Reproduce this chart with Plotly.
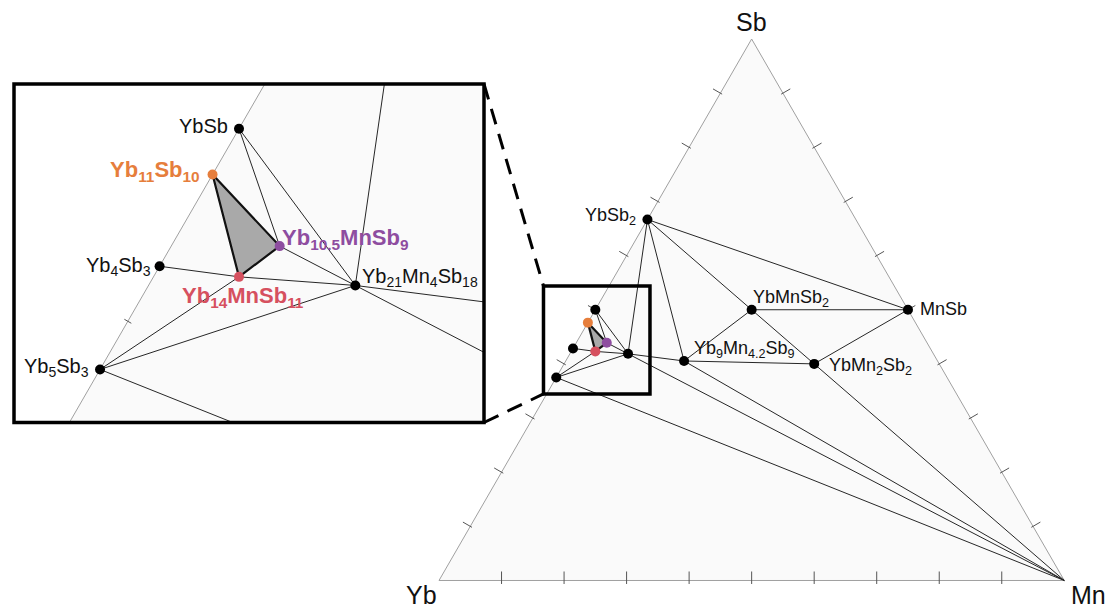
import math
import plotly.graph_objects as go

# ---- phase compositions (atoms of Yb, Mn, Sb) ----
PHASES = ["YbSb2", "YbSb", "Yb11Sb10", "Yb4Sb3", "Yb5Sb3", "Yb14MnSb11",
          "Yb10.5MnSb9", "Yb21Mn4Sb18", "Yb9Mn4.2Sb9", "YbMnSb2", "YbMn2Sb2",
          "MnSb", "Yb", "Mn", "Sb"]
YB_ATOMS = [1, 1, 11, 4, 5, 14, 10.5, 21, 9, 1, 1, 0, 1, 0, 0]
MN_ATOMS = [0, 0, 0, 0, 0, 1, 1, 4, 4.2, 1, 2, 1, 0, 1, 0]
SB_ATOMS = [2, 1, 10, 3, 3, 11, 9, 18, 9, 2, 2, 1, 0, 0, 1]

# tie lines between coexisting phases
TIE_LINES = [
    ("YbSb2", "MnSb"), ("YbSb2", "YbMnSb2"), ("YbSb2", "Yb9Mn4.2Sb9"),
    ("YbSb2", "Yb21Mn4Sb18"), ("YbMnSb2", "MnSb"), ("YbMnSb2", "Yb9Mn4.2Sb9"),
    ("YbMnSb2", "YbMn2Sb2"), ("YbMn2Sb2", "MnSb"), ("Yb9Mn4.2Sb9", "YbMn2Sb2"),
    ("Yb21Mn4Sb18", "Yb9Mn4.2Sb9"), ("YbMn2Sb2", "Mn"), ("Yb9Mn4.2Sb9", "Mn"),
    ("Yb21Mn4Sb18", "Mn"), ("Yb5Sb3", "Mn"), ("YbSb", "Yb10.5MnSb9"),
    ("YbSb", "Yb21Mn4Sb18"), ("Yb10.5MnSb9", "Yb21Mn4Sb18"),
    ("Yb4Sb3", "Yb14MnSb11"), ("Yb14MnSb11", "Yb21Mn4Sb18"),
    ("Yb5Sb3", "Yb14MnSb11"), ("Yb5Sb3", "Yb21Mn4Sb18"),
]

# three-phase field of interest
HIGHLIGHT = ["Yb11Sb10", "Yb10.5MnSb9", "Yb14MnSb11"]
HIGHLIGHT_COLORS = ["#e67e3c", "#8e4da0", "#d6505f"]

BLACK_POINTS = ["YbSb2", "YbSb", "Yb4Sb3", "Yb5Sb3", "Yb21Mn4Sb18",
                "Yb9Mn4.2Sb9", "YbMnSb2", "YbMn2Sb2", "MnSb"]

TICK_FRACTIONS = [0.1, 0.2, 0.3, 0.4, 0.5, 0.6, 0.7, 0.8, 0.9]

LABEL_TEXT = {
    "YbSb2": "YbSb<sub>2</sub>", "YbSb": "YbSb",
    "Yb11Sb10": "Yb<sub>11</sub>Sb<sub>10</sub>",
    "Yb4Sb3": "Yb<sub>4</sub>Sb<sub>3</sub>",
    "Yb5Sb3": "Yb<sub>5</sub>Sb<sub>3</sub>",
    "Yb14MnSb11": "Yb<sub>14</sub>MnSb<sub>11</sub>",
    "Yb10.5MnSb9": "Yb<sub>10.5</sub>MnSb<sub>9</sub>",
    "Yb21Mn4Sb18": "Yb<sub>21</sub>Mn<sub>4</sub>Sb<sub>18</sub>",
    "Yb9Mn4.2Sb9": "Yb<sub>9</sub>Mn<sub>4.2</sub>Sb<sub>9</sub>",
    "YbMnSb2": "YbMnSb<sub>2</sub>", "YbMn2Sb2": "YbMn<sub>2</sub>Sb<sub>2</sub>",
    "MnSb": "MnSb",
}

# ---- view windows ----
W, H = 1110, 610
X_MAIN = [-0.7021, 1.0731]
Y_MAIN = [-0.0472, 0.9284]
X_INSET = [0.1488, 0.3602]
Y_INSET = [0.3009, 0.4531]
INSET_DOMAIN_X = [14 / W, 484 / W]
INSET_DOMAIN_Y = [1 - 422.5 / H, 1 - 84 / H]
ZOOM_X = [0.1671, 0.3374]
ZOOM_Y = [0.2983, 0.4710]

FONT = "Liberation Sans, Arial, Helvetica, sans-serif"
SQ3 = math.sqrt(3) / 2


def to_xy(yb, mn, sb):
    tot = yb + mn + sb
    m, s = mn / tot, sb / tot
    return m + s / 2, s * SQ3


POS = {n: to_xy(a, b, c) for n, a, b, c in zip(PHASES, YB_ATOMS, MN_ATOMS, SB_ATOMS)}

fig = go.Figure()


def add_diagram(xa, ya, px_per_unit, tick_in_base, tick_out_base, tick_in_side, tick_out_side):
    cyb, cmn, csb = POS["Yb"], POS["Mn"], POS["Sb"]
    # triangle body and edges
    fig.add_trace(go.Scatter(
        x=[cyb[0], cmn[0], csb[0], cyb[0]], y=[cyb[1], cmn[1], csb[1], cyb[1]],
        mode="lines", fill="toself", fillcolor="#fafafa",
        line=dict(color="#a0a0a0", width=1), xaxis=xa, yaxis=ya, hoverinfo="skip"))
    # ticks on the three edges
    edges = [(cyb, cmn, (0.0, 1.0), tick_in_base, tick_out_base),
             (cyb, csb, (SQ3, -0.5), tick_in_side, tick_out_side),
             (cmn, csb, (-SQ3, -0.5), tick_in_side, tick_out_side)]
    tx, ty = [], []
    for p, q, nrm, tin, tout in edges:
        for t in TICK_FRACTIONS:
            bx = p[0] + t * (q[0] - p[0])
            by = p[1] + t * (q[1] - p[1])
            a_in, a_out = tin / px_per_unit, tout / px_per_unit
            tx += [bx - a_out * nrm[0], bx + a_in * nrm[0], None]
            ty += [by - a_out * nrm[1], by + a_in * nrm[1], None]
    fig.add_trace(go.Scatter(x=tx, y=ty, mode="lines", line=dict(color="#555555", width=1),
                             xaxis=xa, yaxis=ya, hoverinfo="skip"))
    # tie lines
    lx, ly = [], []
    for a, b in TIE_LINES:
        lx += [POS[a][0], POS[b][0], None]
        ly += [POS[a][1], POS[b][1], None]
    fig.add_trace(go.Scatter(x=lx, y=ly, mode="lines", line=dict(color="#262626", width=1),
                             xaxis=xa, yaxis=ya, hoverinfo="skip"))
    # highlighted three-phase triangle
    hx = [POS[n][0] for n in HIGHLIGHT] + [POS[HIGHLIGHT[0]][0]]
    hy = [POS[n][1] for n in HIGHLIGHT] + [POS[HIGHLIGHT[0]][1]]
    fig.add_trace(go.Scatter(x=hx, y=hy, mode="lines", fill="toself", fillcolor="#a9a9a9",
                             line=dict(color="#111111", width=2.2),
                             xaxis=xa, yaxis=ya, hoverinfo="skip"))
    # phases
    fig.add_trace(go.Scatter(
        x=[POS[n][0] for n in BLACK_POINTS], y=[POS[n][1] for n in BLACK_POINTS],
        mode="markers", marker=dict(color="black", size=10),
        xaxis=xa, yaxis=ya, hoverinfo="skip"))
    fig.add_trace(go.Scatter(
        x=[POS[n][0] for n in HIGHLIGHT], y=[POS[n][1] for n in HIGHLIGHT],
        mode="markers", marker=dict(color=HIGHLIGHT_COLORS, size=10),
        xaxis=xa, yaxis=ya, hoverinfo="skip"))


main_scale = W / (X_MAIN[1] - X_MAIN[0])
inset_scale = (INSET_DOMAIN_X[1] - INSET_DOMAIN_X[0]) * W / (X_INSET[1] - X_INSET[0])
add_diagram("x", "y", main_scale, 9, 3.5, 2, 8.5)
add_diagram("x2", "y2", inset_scale, 4, 4, 4, 4)

annotations = []


def label(name, xref, yref, xanchor, yanchor, dx, dy, size, color="#111111", bold=False):
    txt = LABEL_TEXT[name]
    if bold:
        txt = "<b>" + txt + "</b>"
    annotations.append(dict(
        x=POS[name][0], y=POS[name][1], xref=xref, yref=yref, text=txt,
        showarrow=False, xanchor=xanchor, yanchor=yanchor, xshift=dx, yshift=dy,
        font=dict(family=FONT, size=size, color=color)))


# labels on the full diagram
label("YbSb2", "x", "y", "right", "middle", -9, 3, 18)
label("YbMnSb2", "x", "y", "left", "bottom", -1, -2, 18)
label("Yb9Mn4.2Sb9", "x", "y", "left", "bottom", 8, -2, 18)
label("YbMn2Sb2", "x", "y", "left", "middle", 13, -3, 18)
label("MnSb", "x", "y", "left", "middle", 10, 1, 18)

# labels in the enlarged view
label("YbSb", "x2", "y2", "right", "middle", -9, 3, 20)
label("Yb4Sb3", "x2", "y2", "right", "middle", -7, 0, 20)
label("Yb5Sb3", "x2", "y2", "right", "middle", -9, 2, 20)
label("Yb21Mn4Sb18", "x2", "y2", "left", "middle", 5, 8, 20)
label("Yb11Sb10", "x2", "y2", "right", "middle", -11, 4, 22, HIGHLIGHT_COLORS[0], True)
label("Yb10.5MnSb9", "x2", "y2", "left", "middle", 0, 7, 22, HIGHLIGHT_COLORS[1], True)
label("Yb14MnSb11", "x2", "y2", "center", "top", 4, -4, 22, HIGHLIGHT_COLORS[2], True)

# corner element labels
for name, dx, dy in [("Sb", 0, 17), ("Yb", -18, -15), ("Mn", 24, -15)]:
    annotations.append(dict(
        x=POS[name][0], y=POS[name][1], xref="x", yref="y", text=name, showarrow=False,
        xanchor="center", yanchor="middle", xshift=dx, yshift=dy,
        font=dict(family=FONT, size=25, color="#111111")))


def paper_x(v):
    return (v - X_MAIN[0]) / (X_MAIN[1] - X_MAIN[0])


def paper_y(v):
    return (v - Y_MAIN[0]) / (Y_MAIN[1] - Y_MAIN[0])


shapes = [
    # zoom window on the full diagram
    dict(type="rect", xref="x", yref="y", x0=ZOOM_X[0], x1=ZOOM_X[1], y0=ZOOM_Y[0], y1=ZOOM_Y[1],
         line=dict(color="black", width=3.5)),
    # frame of the enlarged view
    dict(type="rect", xref="paper", yref="paper",
         x0=INSET_DOMAIN_X[0], x1=INSET_DOMAIN_X[1], y0=INSET_DOMAIN_Y[0], y1=INSET_DOMAIN_Y[1],
         line=dict(color="black", width=3.5)),
    # connectors
    dict(type="line", xref="paper", yref="paper",
         x0=INSET_DOMAIN_X[1], y0=INSET_DOMAIN_Y[1], x1=paper_x(ZOOM_X[0]), y1=paper_y(ZOOM_Y[1]),
         line=dict(color="black", width=3, dash="16px,10px")),
    dict(type="line", xref="paper", yref="paper",
         x0=INSET_DOMAIN_X[1], y0=INSET_DOMAIN_Y[0], x1=paper_x(ZOOM_X[0]), y1=paper_y(ZOOM_Y[0]),
         line=dict(color="black", width=3, dash="16px,10px")),
]

axis_off = dict(visible=False, showgrid=False, zeroline=False, fixedrange=True)
fig.update_layout(
    width=W, height=H, margin=dict(l=0, r=0, t=0, b=0),
    paper_bgcolor="white", plot_bgcolor="white", showlegend=False,
    xaxis=dict(range=X_MAIN, domain=[0, 1], **axis_off),
    yaxis=dict(range=Y_MAIN, domain=[0, 1], **axis_off),
    xaxis2=dict(range=X_INSET, domain=INSET_DOMAIN_X, anchor="y2", **axis_off),
    yaxis2=dict(range=Y_INSET, domain=INSET_DOMAIN_Y, anchor="x2", **axis_off),
    annotations=annotations, shapes=shapes,
)

fig.write_html("out.html")
